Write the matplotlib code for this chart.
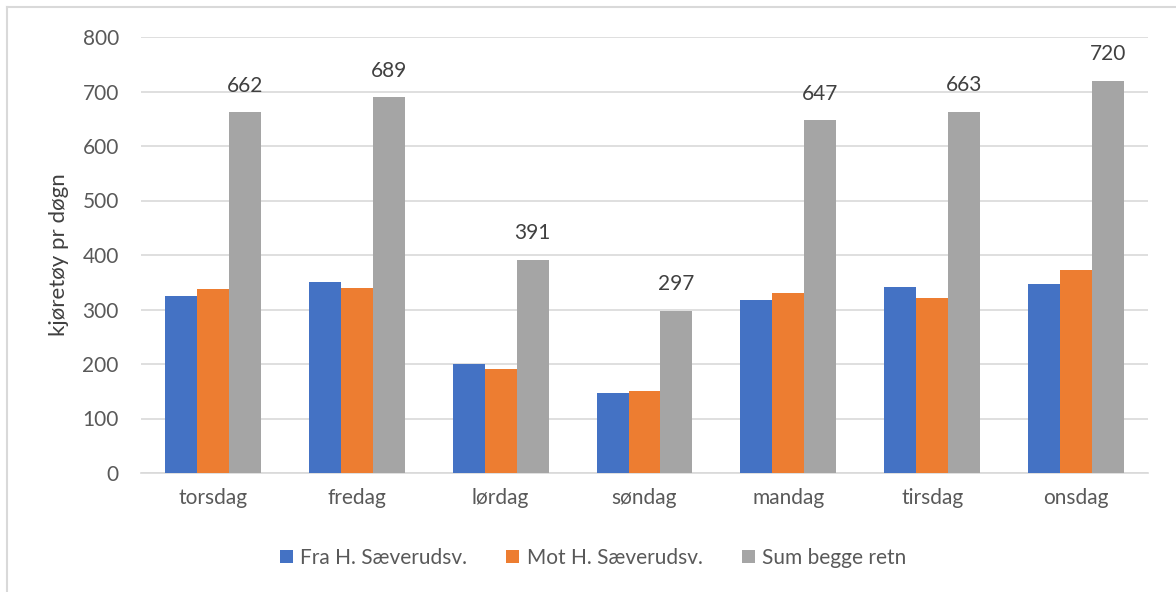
import numpy as np
import matplotlib.pyplot as plt
from matplotlib.lines import Line2D
plt.rcParams["font.family"] = ["Lato", "DejaVu Sans"]

days = ['torsdag', 'fredag', 'lørdag', 'søndag', 'mandag', 'tirsdag', 'onsdag']
fra = [325, 350, 200, 147, 317, 342, 347]
mot = [337, 339, 191, 150, 330, 321, 373]
total = [662, 689, 391, 297, 647, 663, 720]
series_names = ['Fra H. Sæverudsv.', 'Mot H. Sæverudsv.', 'Sum begge retn']
yticks = [0, 100, 200, 300, 400, 500, 600, 700, 800]

txt = '#595959'
fs = 15
fig = plt.figure(figsize=(11.76, 5.92), dpi=100)
ax = fig.add_axes([141/1176, 1 - 473/592, (1148-141)/1176, (473-37)/592])

x = np.arange(len(days))
w = 0.222
ax.bar(x - w, fra, w, color='#4472C4', label=series_names[0], zorder=3)
ax.bar(x, mot, w, color='#ED7D31', label=series_names[1], zorder=3)
bars = ax.bar(x + w, total, w, color='#A5A5A5', label=series_names[2], zorder=3)
ax.bar_label(bars, labels=[str(v) for v in total], padding=12, fontsize=fs, color='#404040')

ax.set_xlim(-0.5, len(days) - 0.5)
ax.set_ylim(0, 800)
ax.set_yticks(yticks)
ax.set_xticks(x, days)
ax.grid(axis='y', color='#D9D9D9', linewidth=1.2, zorder=0)
for s in ['top', 'right', 'left']:
    ax.spines[s].set_visible(False)
ax.spines['bottom'].set_color('#D9D9D9')
ax.spines['bottom'].set_linewidth(1.2)
ax.tick_params(axis='both', length=0, labelsize=fs, colors=txt)
ax.tick_params(axis='x', pad=11)
ax.tick_params(axis='y', pad=16)
ax.set_ylabel('kjøretøy pr døgn', fontsize=fs + 1, color='#404040', labelpad=10)

ax.legend(loc='center', bbox_to_anchor=(0.449, -0.195), ncol=3, frameon=False,
          fontsize=fs, labelcolor=txt, handlelength=0.62, handleheight=0.62,
          handletextpad=0.35, columnspacing=1.9)

# light border on left and top like the original frame
fig.add_artist(Line2D([7/1176, 7/1176], [0, 1 - 7/592], color='#D9D9D9', lw=1.5))
fig.add_artist(Line2D([7/1176, 1], [1 - 7/592, 1 - 7/592], color='#D9D9D9', lw=1.5))

plt.savefig('out.png', dpi=100)
